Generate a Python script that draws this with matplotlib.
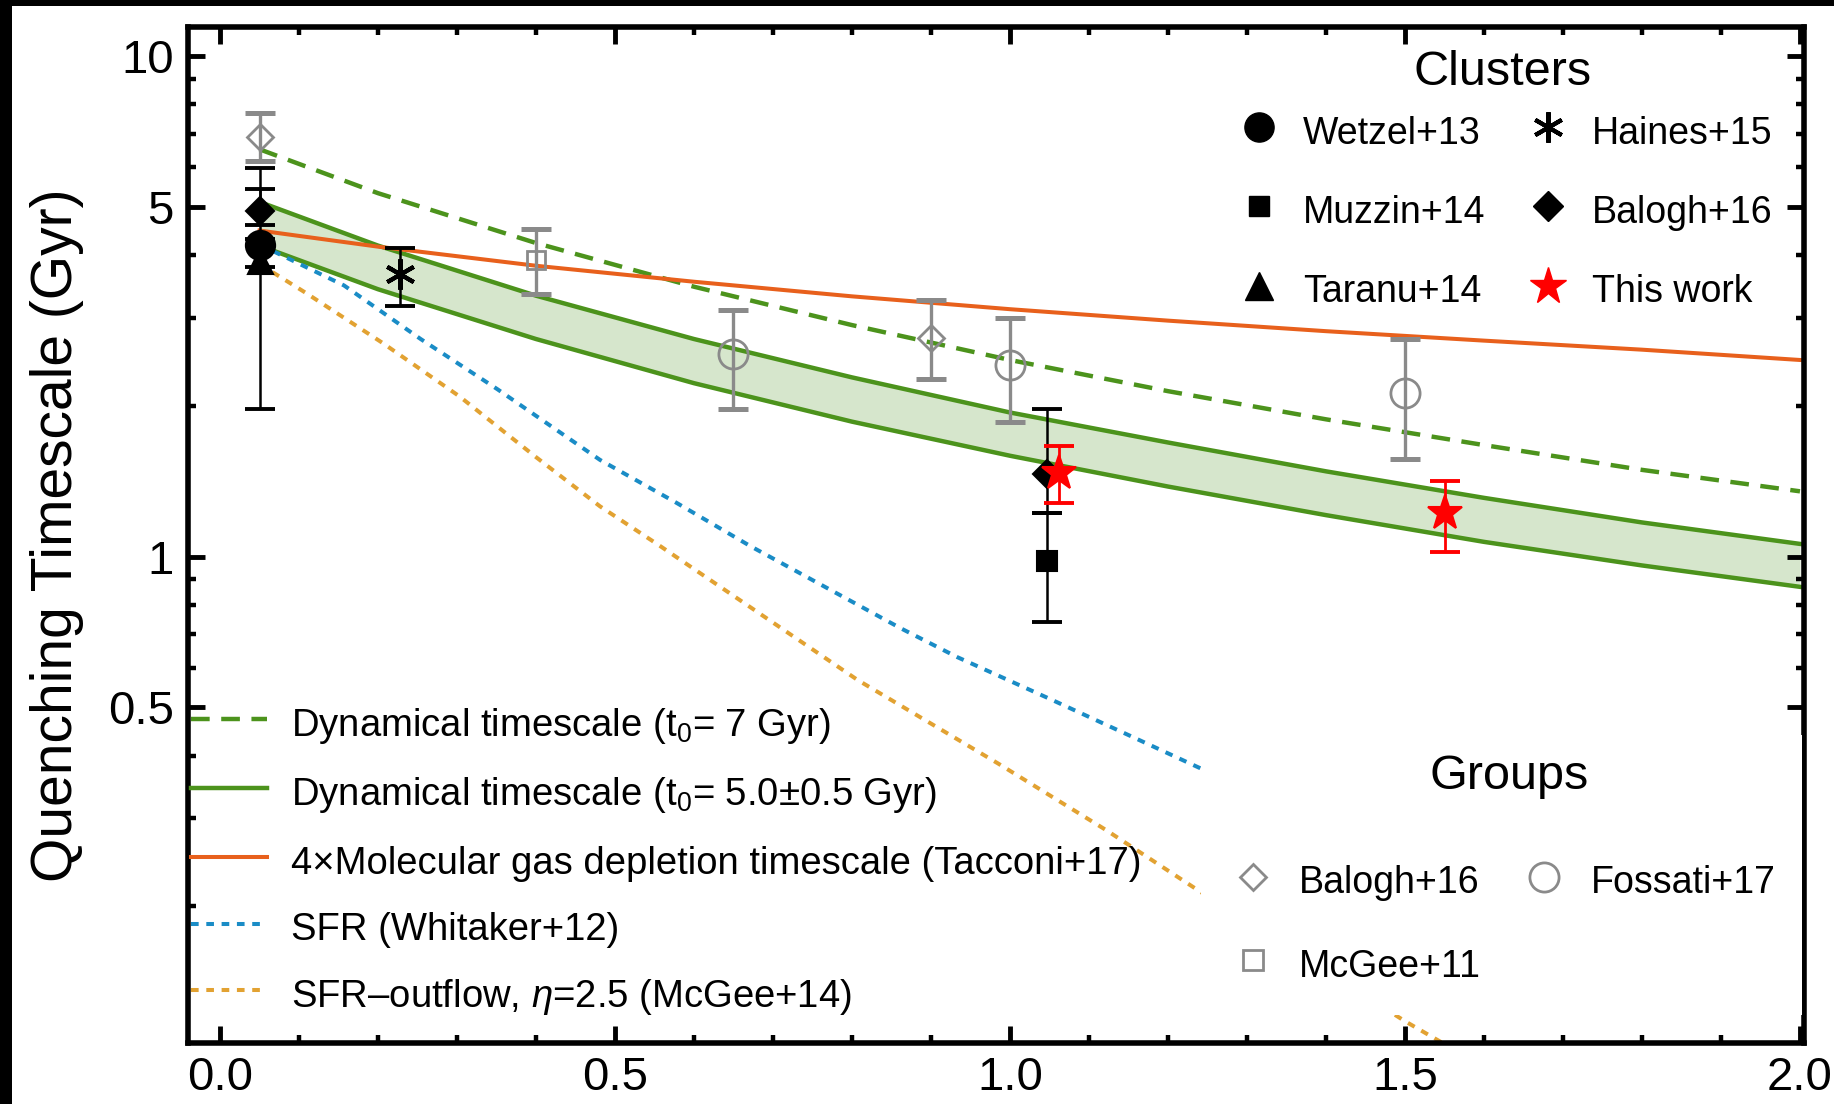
import matplotlib
matplotlib.use('Agg')
import matplotlib.pyplot as plt
from matplotlib.lines import Line2D
from matplotlib.patches import Rectangle
from matplotlib.ticker import FixedLocator, FixedFormatter, NullFormatter, MultipleLocator, FormatStrFormatter
import numpy as np

plt.rcParams['font.family'] = ['Liberation Sans', 'DejaVu Sans']
plt.rcParams['mathtext.fontset'] = 'custom'
plt.rcParams['mathtext.rm'] = 'Liberation Sans'
plt.rcParams['mathtext.it'] = 'Liberation Sans:italic'

# ---------------- model curves ----------------
z_model = [0.05, 0.2, 0.4, 0.6, 0.8, 1.0, 1.2, 1.4, 1.6, 1.8, 2.0]
dyn_t7 = [6.51, 5.32, 4.23, 3.46, 2.90, 2.47, 2.14, 1.88, 1.67, 1.49, 1.35]
dyn_hi = [5.11, 4.18, 3.32, 2.72, 2.28, 1.94, 1.69, 1.48, 1.31, 1.17, 1.06]
dyn_lo = [4.18, 3.42, 2.72, 2.22, 1.86, 1.59, 1.38, 1.21, 1.07, 0.96, 0.87]
tacconi = [4.48, 4.16, 3.81, 3.54, 3.31, 3.12, 2.96, 2.82, 2.70, 2.59, 2.47]

z_sfr = [0.05, 0.157, 0.254, 0.351, 0.481, 0.578, 0.671, 0.861, 0.933, 1.05, 1.15, 1.242]
t_sfr = [4.2, 3.48, 2.72, 2.16, 1.56, 1.28, 1.05, 0.72, 0.63, 0.52, 0.44, 0.377]

z_out = [0.05, 0.109, 0.206, 0.303, 0.40, 0.481, 0.557, 0.807, 0.985, 1.122, 1.239, 1.50, 1.56]
t_out = [3.84, 3.36, 2.67, 2.09, 1.58, 1.26, 1.05, 0.567, 0.386, 0.284, 0.215, 0.118, 0.104]

# ---------------- cluster measurements ----------------
wetzel_z = [0.05];  wetzel_t = [4.2];  wetzel_lo = [3.78]; wetzel_hi = [5.43]
taranu_z = [0.05];  taranu_t = [3.9];  taranu_lo = [1.97]; taranu_hi = [4.3]
baloghc_z = [0.05, 1.047]; baloghc_t = [4.9, 1.46]; baloghc_lo = [4.6, 1.22]; baloghc_hi = [5.98, 1.97]
muzzin_z = [1.047]; muzzin_t = [0.98]; muzzin_lo = [0.74]; muzzin_hi = [1.22]
haines_z = [0.228]; haines_t = [3.66]; haines_lo = [3.16]; haines_hi = [4.14]
this_z = [1.062, 1.551]; this_t = [1.47, 1.22]; this_lo = [1.278, 1.023]; this_hi = [1.665, 1.418]

# ---------------- group measurements ----------------
baloghg_z = [0.05, 0.9]; baloghg_t = [6.88, 2.73]; baloghg_lo = [6.18, 2.26]; baloghg_hi = [7.68, 3.25]
mcgee_z = [0.40]; mcgee_t = [3.91]; mcgee_lo = [3.35]; mcgee_hi = [4.52]
fossati_z = [0.65, 1.0, 1.5]; fossati_t = [2.54, 2.41, 2.12]
fossati_lo = [1.97, 1.855, 1.564]; fossati_hi = [3.11, 2.99, 2.72]

GREEN = '#4c931c'
BAND = '#d6e6cc'
ORANGE = '#e8601c'
BLUE = '#1a8cc6'
GOLD = '#e2a232'
GREY = '#8a8a8a'

fig = plt.figure(figsize=(18.34, 11.04), dpi=100)
fig.patch.set_facecolor('black')
fig.add_artist(Rectangle((12 / 1834, 0), 1, 1 - 6 / 1104, transform=fig.transFigure,
                         facecolor='white', edgecolor='none', zorder=-10))
ax = fig.add_axes([0.1023, 0.055, 0.8813, 0.9208])

ax.fill_between(z_model, dyn_lo, dyn_hi, color=BAND, lw=0, zorder=1)
l_t7, = ax.plot(z_model, dyn_t7, color=GREEN, lw=3.2, dashes=(4.2, 2.6), zorder=2)
l_band, = ax.plot(z_model, dyn_hi, color=GREEN, lw=3.2, zorder=2)
ax.plot(z_model, dyn_lo, color=GREEN, lw=3.2, zorder=2)
l_tac, = ax.plot(z_model, tacconi, color=ORANGE, lw=2.9, zorder=2)
l_sfr, = ax.plot(z_sfr, t_sfr, color=BLUE, lw=2.9, dashes=(1.9, 1.9), zorder=2)
l_out, = ax.plot(z_out, t_out, color=GOLD, lw=2.9, dashes=(1.9, 1.9), zorder=2)


def eb(z, t, lo, hi, color, marker, ms, mfc=None, mew=1.5, elw=1.8, cap=10.5, capt=2.8, zo=3):
    t = np.array(t); lo = np.array(lo); hi = np.array(hi)
    ax.errorbar(z, t, yerr=[t - lo, hi - t], fmt='none', ecolor=color,
                elinewidth=elw, capsize=cap, capthick=capt, zorder=zo)
    ax.plot(z, t, ls='none', marker=marker, color=color, ms=ms,
            mfc=mfc if mfc is not None else color, mec=color, mew=mew, zorder=zo + 0.1)

# groups (grey, open)
eb(baloghg_z, baloghg_t, baloghg_lo, baloghg_hi, GREY, 'D', 13, mfc='none', mew=2.0, elw=2.4, capt=3.6)
eb(mcgee_z, mcgee_t, mcgee_lo, mcgee_hi, GREY, 's', 13, mfc='none', mew=2.0, elw=2.4, capt=3.6)
eb(fossati_z, fossati_t, fossati_lo, fossati_hi, GREY, 'o', 21, mfc='none', mew=2.0, elw=2.4, capt=3.6)
# clusters (black, filled)
eb(taranu_z, taranu_t, taranu_lo, taranu_hi, 'black', '^', 18)
eb(wetzel_z, wetzel_t, wetzel_lo, wetzel_hi, 'black', 'o', 21)
eb(baloghc_z, baloghc_t, baloghc_lo, baloghc_hi, 'black', 'D', 14)
eb(muzzin_z, muzzin_t, muzzin_lo, muzzin_hi, 'black', 's', 14)
eb(haines_z, haines_t, haines_lo, haines_hi, 'black', (6, 2, 0), 22, mew=3.0)
eb(this_z, this_t, this_lo, this_hi, 'red', '*', 26, elw=2.0, zo=4)

# axes
ax.set_yscale('log')
ax.set_xlim(-0.041, 2.005)
ax.set_ylim(0.1066, 11.44)
ax.yaxis.set_major_locator(FixedLocator([0.5, 1, 5, 10]))
ax.yaxis.set_major_formatter(FixedFormatter(['0.5', '1', '5', '10']))
ax.yaxis.set_minor_locator(FixedLocator([0.2, 0.3, 0.4, 0.6, 0.7, 0.8, 0.9, 2, 3, 4, 6, 7, 8, 9]))
ax.yaxis.set_minor_formatter(NullFormatter())
ax.xaxis.set_major_locator(MultipleLocator(0.5))
ax.xaxis.set_major_formatter(FormatStrFormatter('%.1f'))
ax.xaxis.set_minor_locator(MultipleLocator(0.1))
ax.tick_params(which='both', direction='in', top=True, right=True, labelsize=34)
ax.tick_params(which='major', length=12, width=3.5)
ax.tick_params(which='minor', length=6, width=3.2)
ax.tick_params(axis='y', pad=10)
ax.tick_params(axis='x', pad=9)
for s in ax.spines.values():
    s.set_linewidth(4)
ax.set_ylabel('Quenching Timescale (Gyr)', fontsize=41)
ax.yaxis.set_label_coords(-0.0642, 0.5)

# legends
FS = 27.5
leg1 = ax.legend([l_t7, l_band, l_tac, l_sfr, l_out],
                 [r'Dynamical timescale (t$_0$= 7 Gyr)',
                  r'Dynamical timescale (t$_0$= 5.0±0.5 Gyr)',
                  '4×Molecular gas depletion timescale (Tacconi+17)',
                  'SFR (Whitaker+12)',
                  r'SFR–outflow, $\eta$=2.5 (McGee+14)'],
                 loc='upper left', bbox_to_anchor=(0.002, 0.3354), borderaxespad=0, borderpad=0,
                 frameon=False, fontsize=FS, handlelength=2.0, handletextpad=0.61,
                 handleheight=1.3, labelspacing=0.66)
leg1.set_zorder(6)
ax.add_artist(leg1)

FS2 = 27
ch = [Line2D([], [], ls='none', marker='o', color='k', ms=21),
      Line2D([], [], ls='none', marker='s', color='k', ms=15),
      Line2D([], [], ls='none', marker='^', color='k', ms=20),
      Line2D([], [], ls='none', marker=(6, 2, 0), color='k', ms=22, mew=3.0),
      Line2D([], [], ls='none', marker='D', color='k', ms=15),
      Line2D([], [], ls='none', marker='*', color='red', ms=28)]
leg2 = ax.legend(ch, ['Wetzel+13', 'Muzzin+14', 'Taranu+14', 'Haines+15', 'Balogh+16', 'This work'],
                 ncol=2, loc='upper left', bbox_to_anchor=(0.651, 0.9175), borderaxespad=0, borderpad=0,
                 frameon=False, fontsize=FS2, handlelength=1.0, handletextpad=0.684,
                 handleheight=1.3, labelspacing=1.02, columnspacing=1.16)
leg2.set_zorder(6)
ax.add_artist(leg2)
ax.text(0.8138, 0.955, 'Clusters', transform=ax.transAxes, fontsize=35, ha='center', va='center', zorder=6)

ax.add_patch(Rectangle((0.627, 0.028), 0.372, 0.275, transform=ax.transAxes,
                       facecolor='white', edgecolor='none', zorder=5))
gh = [Line2D([], [], ls='none', marker='D', color=GREY, mfc='none', ms=13, mew=2.0),
      Line2D([], [], ls='none', marker='s', color=GREY, mfc='none', ms=14, mew=2.0),
      Line2D([], [], ls='none', marker='o', color=GREY, mfc='none', ms=21, mew=2.0)]
leg3 = ax.legend(gh, ['Balogh+16', 'McGee+11', 'Fossati+17'],
                 ncol=2, loc='upper left', bbox_to_anchor=(0.6473, 0.180), borderaxespad=0, borderpad=0,
                 frameon=False, fontsize=FS2, handlelength=1.0, handletextpad=0.737,
                 handleheight=1.3, labelspacing=1.13, columnspacing=1.19)
leg3.set_zorder(6)
ax.text(0.8175, 0.262, 'Groups', transform=ax.transAxes, fontsize=35, ha='center', va='center', zorder=6)

fig.savefig('out.png', dpi=100, facecolor=fig.get_facecolor())
